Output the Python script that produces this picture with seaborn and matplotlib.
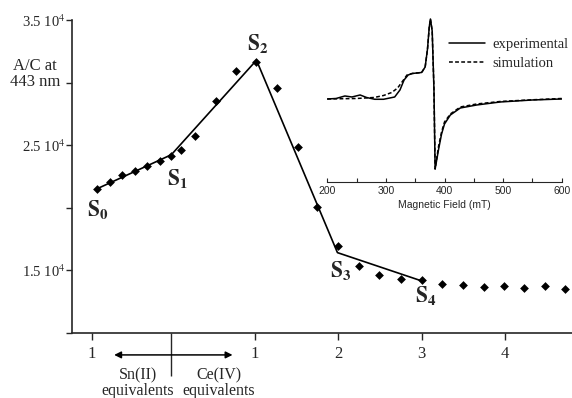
import matplotlib
matplotlib.use('Agg')
import matplotlib.pyplot as plt
import seaborn as sns
import pandas as pd

# titration points: negative x = Sn(II) side, positive x = Ce(IV) side
sn_equiv = [-0.89, -0.74, -0.59, -0.44, -0.29, -0.14, 0.0]
sn_ac = [21500, 22060, 22590, 22930, 23360, 23760, 24160]
ce_equiv = [0.12, 0.28, 0.53, 0.77, 1.02, 1.27, 1.52, 1.75, 2.0, 2.25,
            2.49, 2.75, 3.0, 3.24, 3.49, 3.74, 3.98, 4.23, 4.48, 4.72]
ce_ac = [24590, 25760, 28560, 30960, 31650, 29600, 24880, 20030, 16910, 15330,
         14670, 14350, 14210, 13890, 13810, 13680, 13730, 13600, 13730, 13550]

# S-state fit line
s_names = ['S_0', 'S_1', 'S_2', 'S_3', 'S_4']
s_x = [-0.89, 0.0, 1.02, 1.99, 2.99]
s_y = [21520, 24240, 31790, 16420, 14180]

# x ticks (the Sn(II) "1" sits on the left of the divider)
xtick_pos = [-0.95, 1, 2, 3, 4]
xtick_lab = ['1', '1', '2', '3', '4']
ytick_pos = [10000, 15000, 20000, 25000, 30000, 35000]
ytick_lab = ['', '1.5 10$^4$', '', '2.5 10$^4$', '', '3.5 10$^4$']

# EPR spectrum (inset), arbitrary units
exp_field = [200, 215, 230, 242, 256, 267, 281, 296, 315, 324, 331, 338, 345, 353,
             361, 367, 371, 374, 376, 379, 382, 384, 387, 390, 395, 400, 410, 427,
             455, 495, 550, 600]
exp_signal = [0, 0.5, 3, 2, 4, 1.5, -0.3, -0.3, 2, 9, 19, 24, 25.5, 26,
              26.5, 32, 50, 72, 80, 68, 10, -70, -60, -50, -35, -25, -16, -9,
              -6, -3, -1, 0]
sim_field = [200, 250, 280, 296, 310, 320, 330, 336, 345, 353, 361, 367, 371, 374,
             376, 379, 382, 384, 387, 390, 395, 400, 410, 427, 455, 495, 550, 600]
sim_signal = [0, 0.5, 1.5, 3.5, 6.5, 11, 19, 24, 25.5, 26, 26.5, 32, 50, 72,
              80, 68, 10, -70, -58, -47, -33, -23, -15, -8, -5, -2.5, -0.8, 0.5]

sns.set_style('ticks')
plt.rcParams['font.family'] = ['Liberation Serif', 'DejaVu Serif']
plt.rcParams['mathtext.fontset'] = 'stix'

fig = plt.figure(figsize=(5.72, 3.98), dpi=100)
ax = fig.add_axes([0.1259, 0.1633, 0.8741, 0.7864])

points = pd.DataFrame({'x': sn_equiv + ce_equiv, 'y': sn_ac + ce_ac})
fit = pd.DataFrame({'x': s_x, 'y': s_y})

sns.lineplot(data=fit, x='x', y='y', sort=False, color='black', lw=1.2, ax=ax)
sns.scatterplot(data=points, x='x', y='y', marker='D', s=20, color='black',
                edgecolor='black', linewidth=0, ax=ax, zorder=3)

# S labels
label_off = [(0.01, -1760), (0.07, -2000), (0.01, 1250), (0.04, -1500), (0.06, -1250)]
for name, x, y, (dx, dy) in zip(s_names, s_x, s_y, label_off):
    ax.text(x + dx, y + dy, r'$\mathbf{%s}$' % name, fontsize=15.5,
            ha='center', va='center')

ax.set_xlim(-1.19, 4.8)
ax.set_ylim(10000, 35000)
ax.set_xticks(xtick_pos)
ax.set_xticklabels(xtick_lab, fontsize=12)
ax.set_xticks([0], minor=True)
ax.tick_params(axis='x', which='major', direction='out', length=5, width=1, pad=4)
ax.tick_params(axis='x', which='minor', direction='out', length=31, width=1)
ax.set_yticks(ytick_pos)
ax.set_yticklabels(ytick_lab, fontsize=10.5)
ax.tick_params(axis='y', direction='out', length=4, width=1, pad=0.5)
ax.set_xlabel('')
ax.set_ylabel('')
sns.despine(ax=ax)
for sp in ['left', 'bottom']:
    ax.spines[sp].set_linewidth(1.2)

fig.text(0.061, 0.814, 'A/C at\n443 nm', fontsize=12, ha='center', va='center',
         linespacing=1.0)

# Sn(II) / Ce(IV) arrows
ax.annotate('', xy=(-0.685, -0.07), xytext=(0.733, -0.07),
            xycoords=('data', 'axes fraction'), textcoords=('data', 'axes fraction'),
            arrowprops=dict(arrowstyle='<|-|>', color='black', lw=1.1,
                            mutation_scale=10, shrinkA=0, shrinkB=0),
            annotation_clip=False)
ax.text(-0.4, -0.16, 'Sn(II)\nequivalents', transform=ax.get_xaxis_transform(),
        fontsize=11.5, ha='center', va='center', linespacing=0.95)
ax.text(0.57, -0.16, 'Ce(IV)\nequivalents', transform=ax.get_xaxis_transform(),
        fontsize=11.5, ha='center', va='center', linespacing=0.95)

# inset EPR spectrum
axi = fig.add_axes([0.5722, 0.5435, 0.4098, 0.4264])
axi.patch.set_alpha(0)
sns.lineplot(x=exp_field, y=exp_signal, color='black', lw=1.1, ax=axi,
             label='experimental')
sns.lineplot(x=sim_field, y=sim_signal, color='black', lw=1.1, ax=axi,
             linestyle=(0, (2.5, 1.5)), label='simulation')
axi.set_xlim(200, 600)
axi.set_ylim(-82.7, 87)
axi.set_xticks([200, 300, 400, 500, 600])
axi.set_xticks([250, 350, 450, 550], minor=True)
axi.set_yticks([])
axi.tick_params(axis='x', which='both', direction='in', length=3, width=0.8,
                pad=3, labelsize=7.5)
for lab in axi.get_xticklabels():
    lab.set_family('Liberation Sans')
axi.set_xlabel('Magnetic Field (mT)', fontsize=7.5, family='Liberation Sans',
               labelpad=3)
sns.despine(ax=axi, left=True)
axi.spines['bottom'].set_linewidth(0.8)
axi.legend(loc='upper left', bbox_to_anchor=(0.785, 0.905),
           bbox_transform=fig.transFigure, frameon=False, fontsize=10.5,
           handlelength=2.5, handletextpad=0.5, labelspacing=0.4,
           borderaxespad=0, borderpad=0)

fig.savefig('out.png', dpi=100)
